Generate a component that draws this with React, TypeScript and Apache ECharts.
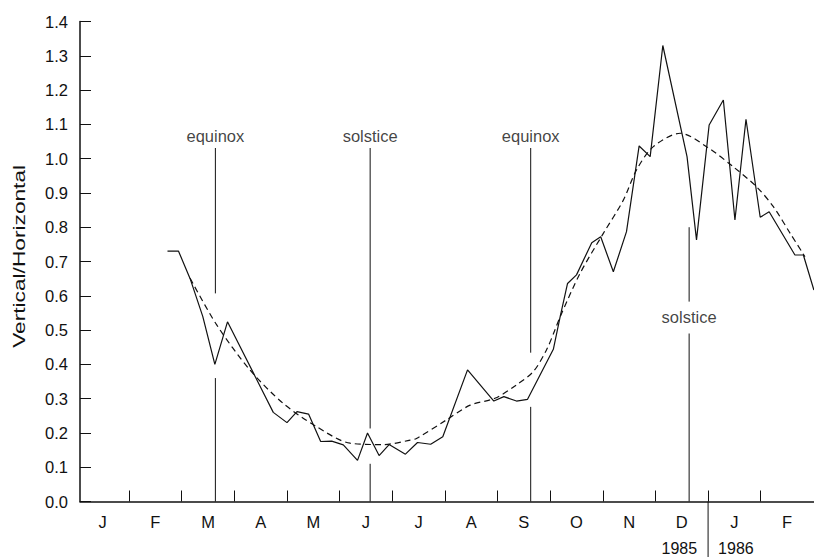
import React, { useEffect, useRef } from 'react';
import * as echarts from 'echarts';

// Months of the axis (Jan 1985 .. Feb 1986), x measured in months from Jan 1 1985
const monthLabels = ['J', 'F', 'M', 'A', 'M', 'J', 'J', 'A', 'S', 'O', 'N', 'D', 'J', 'F'];
const monthTickValues = [1, 2, 3, 4, 5, 6, 7, 8, 9, 10, 11, 12, 13];
const monthLabelValues = [0.5, 1.5, 2.5, 3.5, 4.5, 5.5, 6.5, 7.5, 8.5, 9.5, 10.5, 11.5, 12.5, 13.5];
const yearBoundary = 12;
const yearLabels = ['1985', '1986'];
const yTitle = 'Vertical/Horizontal';

// Observed ratio (solid line)
const obsMonth = [1.73, 1.94, 2.16, 2.40, 2.63, 2.87, 3.74, 4.00, 4.19, 4.41, 4.64, 4.85, 5.07, 5.34, 5.53, 5.75, 5.94, 6.25, 6.48, 6.73, 6.96, 7.43, 7.93, 8.12, 8.36, 8.57, 9.06, 9.19, 9.33, 9.50, 9.79, 9.96, 10.20, 10.45, 10.69, 10.90, 11.14, 11.60, 11.78, 12.02, 12.29, 12.51, 12.72, 12.99, 13.16, 13.65, 13.81, 14.01];
const obsValue = [0.73, 0.73, 0.65, 0.54, 0.40, 0.524, 0.26, 0.23, 0.262, 0.255, 0.175, 0.176, 0.165, 0.12, 0.20, 0.134, 0.166, 0.138, 0.172, 0.167, 0.189, 0.384, 0.293, 0.306, 0.293, 0.298, 0.444, 0.539, 0.636, 0.661, 0.755, 0.772, 0.670, 0.787, 1.037, 1.006, 1.33, 1.006, 0.763, 1.098, 1.171, 0.821, 1.115, 0.829, 0.845, 0.719, 0.719, 0.617];

// Smoothed fit (dashed line)
const fitMonth = [2.16, 2.665, 3.30, 3.93, 4.565, 5.20, 5.83, 6.34, 6.46, 7.03, 7.48, 7.95, 8.36, 8.68, 8.93, 9.09, 9.19, 9.57, 10.01, 10.39, 10.64, 10.96, 11.47, 11.97, 12.48, 12.92, 13.24, 13.56, 13.84];
const fitValue = [0.651, 0.515, 0.383, 0.286, 0.218, 0.170, 0.166, 0.179, 0.184, 0.238, 0.281, 0.301, 0.340, 0.379, 0.442, 0.50, 0.539, 0.666, 0.782, 0.879, 0.967, 1.035, 1.074, 1.035, 0.976, 0.918, 0.86, 0.782, 0.714];

// Equinox / solstice markers
const markerMonth = [2.64, 5.58, 8.63, 11.64];
const markerLabels = ['equinox', 'solstice', 'equinox', 'solstice'];
const markerLabelValue = [1.066, 1.066, 1.066, 0.537];
const markerLowerTop = [0.36, 0.11, 0.276, 0.49];
const markerUpperBottom = [0.607, 0.213, 0.434, 0.583];
const markerUpperTop = [1.031, 1.031, 1.031, 0.80];

const yMin = 0;
const yMax = 1.4;
const yStep = 0.1;

const FONT = 'Liberation Sans, Arial, Helvetica, sans-serif';
const INK = '#111';

export default function App() {
  const ref = useRef<HTMLDivElement>(null);

  useEffect(() => {
    if (!ref.current) return;
    const chart = echarts.init(ref.current, null, { renderer: 'svg' });

    const markerSeries: any[] = [];
    markerMonth.forEach((m, i) => {
      markerSeries.push({
        type: 'line',
        data: [[m, 0], [m, markerLowerTop[i]]],
        symbol: 'none',
        silent: true,
        lineStyle: { color: INK, width: 1 },
      });
      markerSeries.push({
        type: 'line',
        data: [[m, markerUpperBottom[i]], [m, markerUpperTop[i]]],
        symbol: 'none',
        silent: true,
        lineStyle: { color: INK, width: 1 },
      });
    });

    const option: any = {
      animation: false,
      backgroundColor: '#fff',
      textStyle: { fontFamily: FONT },
      grid: { left: 80, right: 0, top: 21.5, bottom: 55.5, containLabel: false },
      xAxis: {
        type: 'value',
        min: 0.068,
        max: 14.012,
        axisLine: { show: true, lineStyle: { color: INK, width: 1.5 } },
        axisTick: { show: true, inside: true, length: 11, customValues: monthTickValues, lineStyle: { color: INK, width: 1 } },
        axisLabel: {
          show: true,
          customValues: monthLabelValues,
          formatter: (v: number) => monthLabels[Math.floor(v)] ?? '',
          color: INK,
          fontSize: 16.5,
          fontFamily: FONT,
          margin: 12,
        },
        splitLine: { show: false },
      },
      yAxis: {
        type: 'value',
        min: yMin,
        max: yMax,
        interval: yStep,
        axisLine: { show: true, lineStyle: { color: INK, width: 1.5 } },
        axisTick: { show: true, inside: true, length: 11, lineStyle: { color: INK, width: 1 } },
        axisLabel: {
          color: INK,
          fontSize: 16.5,
          fontFamily: FONT,
          margin: 12,
          formatter: (v: number) => v.toFixed(1),
        },
        splitLine: { show: false },
      },
      series: [
        {
          type: 'line',
          data: obsMonth.map((m, i) => [m, obsValue[i]]),
          symbol: 'none',
          clip: true,
          lineStyle: { color: INK, width: 1.2 },
          z: 5,
        },
        {
          type: 'line',
          data: fitMonth.map((m, i) => [m, fitValue[i]]),
          symbol: 'none',
          smooth: 0.3,
          clip: true,
          lineStyle: { color: INK, width: 1.2, type: [6, 4] },
          z: 5,
        },
        ...markerSeries,
        {
          type: 'scatter',
          data: markerMonth.map((m, i) => [m, markerLabelValue[i], markerLabels[i]]),
          symbolSize: 0,
          silent: true,
          label: {
            show: true,
            position: 'inside',
            formatter: (p: any) => p.data[2],
            color: INK,
            fontSize: 16.5,
            fontFamily: FONT,
          },
        },
      ],
    };

    chart.setOption(option);

    const xDiv = chart.convertToPixel({ xAxisIndex: 0 }, yearBoundary) as number;
    const yZero = chart.convertToPixel({ yAxisIndex: 0 }, 0) as number;
    const yTitleCenter = chart.convertToPixel({ yAxisIndex: 0 }, 0.715) as number;
    chart.setOption({
      graphic: [
        {
          type: 'line',
          shape: { x1: xDiv, y1: yZero, x2: xDiv, y2: 557 },
          style: { stroke: INK, lineWidth: 1 },
          silent: true,
        },
        {
          type: 'text',
          x: xDiv - 11,
          y: 548,
          style: { text: yearLabels[0], fill: INK, font: `16px ${FONT}`, textAlign: 'right', textVerticalAlign: 'middle' },
          silent: true,
        },
        {
          type: 'text',
          x: xDiv + 10,
          y: 548,
          style: { text: yearLabels[1], fill: INK, font: `16px ${FONT}`, textAlign: 'left', textVerticalAlign: 'middle' },
          silent: true,
        },
        {
          type: 'text',
          x: 19,
          y: yTitleCenter,
          rotation: Math.PI / 2,
          scaleX: 1.42,
          scaleY: 1,
          style: { text: yTitle, fill: INK, font: `16px ${FONT}`, textAlign: 'center', textVerticalAlign: 'middle' },
          silent: true,
        },
      ],
    });

    return () => chart.dispose();
  }, []);

  return (
    <div
      ref={ref}
      style={{ position: 'fixed', left: 0, top: 0, width: 814, height: 557, background: '#fff' }}
    />
  );
}
